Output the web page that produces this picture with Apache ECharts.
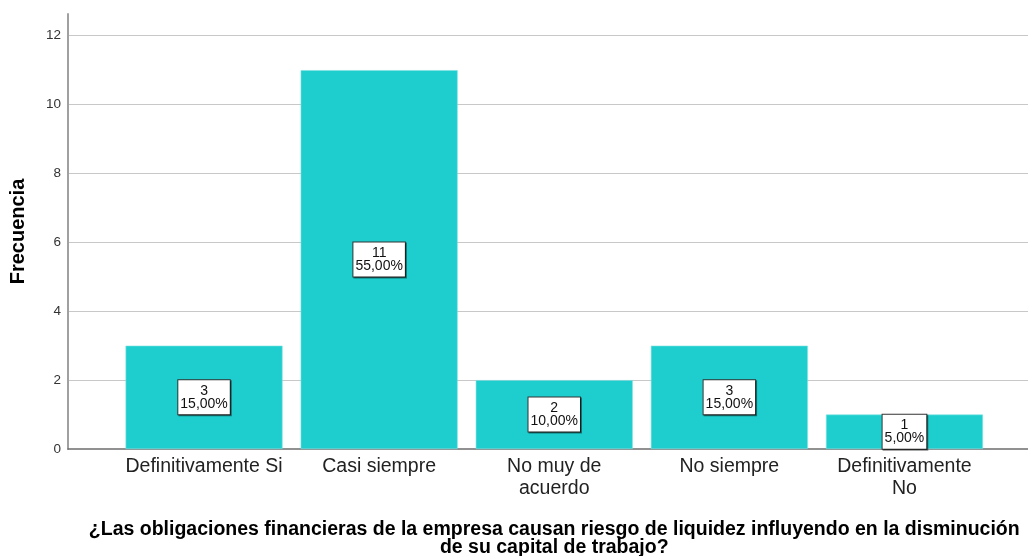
<!DOCTYPE html>
<html>
<head>
<meta charset="utf-8">
<script src="https://cdn.jsdelivr.net/npm/echarts@6/dist/echarts.min.js"></script>
<style>
  html, body { margin: 0; padding: 0; background: #fff; }
  #myChart { width: 1028px; height: 556px; }
</style>
</head>
<body>
<div id="myChart"></div>
<script>
  // datos
  const categorias = ['Definitivamente Si', 'Casi siempre', 'No muy de\nacuerdo', 'No siempre', 'Definitivamente\nNo']
  const frecuencia = [3, 11, 2, 3, 1]
  const porcentaje = ['15,00%', '55,00%', '10,00%', '15,00%', '5,00%']
  const yTicks = [0, 2, 4, 6, 8, 10, 12]

  const font = 'Liberation Sans, Arial, sans-serif'
  const yMax = 12.63
  const gridTop = 14
  const gridBottom = 107

  let myChart = echarts.init(document.getElementById('myChart'))
  myChart.setOption({
    animation: false,
    grid: [
      {left: 68, right: 0, top: gridTop, bottom: gridBottom, containLabel: false, outerBoundsMode: 'none'},
      {left: 116.5, width: 875.5, top: gridTop, bottom: gridBottom, containLabel: false, outerBoundsMode: 'none'}
    ],
    xAxis: [
      {
        gridIndex: 0,
        type: 'value',
        min: 0,
        max: 1,
        axisLine: {show: true, lineStyle: {color: '#6e6e6e', width: 1.5}},
        axisTick: {show: false},
        axisLabel: {show: false},
        splitLine: {show: false}
      },
      {
        gridIndex: 1,
        type: 'category',
        data: categorias,
        axisLine: {show: false},
        axisTick: {show: false},
        axisLabel: {
          interval: 0,
          hideOverlap: false,
          margin: 7,
          fontFamily: font,
          fontSize: 19.5,
          lineHeight: 22,
          color: '#222'
        },
        name: '¿Las obligaciones financieras de la empresa causan riesgo de liquidez influyendo en la disminución\nde su capital de trabajo?',
        nameLocation: 'middle',
        nameGap: 72,
        nameTextStyle: {
          fontFamily: font,
          fontSize: 19.5,
          fontWeight: 'bold',
          lineHeight: 18,
          color: '#000'
        }
      }
    ],
    yAxis: [
      {
        gridIndex: 0,
        type: 'value',
        min: 0,
        max: yMax,
        interval: 2,
        axisLine: {show: true, lineStyle: {color: '#a0a0a0', width: 2}},
        axisTick: {show: false},
        axisLabel: {
          showMaxLabel: false,
          margin: 7,
          fontFamily: font,
          fontSize: 13.5,
          color: '#333',
          formatter: function (v) {
            return yTicks.indexOf(v) >= 0 ? String(v) : ''
          }
        },
        splitLine: {show: true, showMaxLine: false, showMinLine: false, lineStyle: {color: '#c8c8c8', width: 1}},
        name: 'Frecuencia',
        nameLocation: 'middle',
        nameGap: 40,
        nameTextStyle: {
          fontFamily: font,
          fontSize: 20,
          fontWeight: 'bold',
          color: '#000'
        }
      },
      {
        gridIndex: 1,
        type: 'value',
        min: 0,
        max: yMax,
        show: false
      }
    ],
    series: [{
      type: 'bar',
      xAxisIndex: 1,
      yAxisIndex: 1,
      data: frecuencia,
      barWidth: 157,
      itemStyle: {color: '#1ecece', borderColor: '#7fe0e0', borderWidth: 0.6},
      label: {
        show: true,
        position: 'inside',
        formatter: function (p) {
          return p.value + '\n' + porcentaje[p.dataIndex]
        },
        fontFamily: font,
        fontSize: 14,
        lineHeight: 13,
        color: '#111',
        backgroundColor: '#fff',
        borderColor: '#333',
        borderWidth: 1,
        padding: [4, 2, 4, 2],
        shadowColor: 'rgba(0,0,0,0.45)',
        shadowOffsetX: 1,
        shadowOffsetY: 1,
        shadowBlur: 0
      }
    }]
  })
</script>
</body>
</html>
